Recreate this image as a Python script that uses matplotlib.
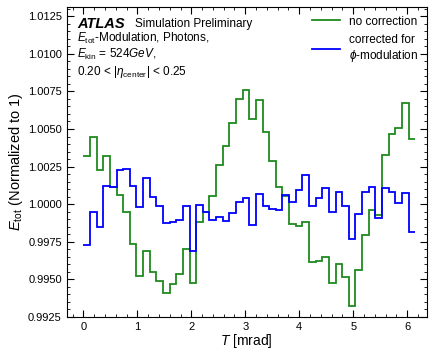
import numpy as np
import matplotlib
matplotlib.use('Agg')
import matplotlib.pyplot as plt
from matplotlib.ticker import AutoMinorLocator, MultipleLocator, FormatStrFormatter

plt.rcParams['font.family'] = ['Liberation Sans', 'DejaVu Sans']
plt.rcParams['mathtext.fontset'] = 'custom'
plt.rcParams['mathtext.rm'] = 'Liberation Sans'
plt.rcParams['mathtext.it'] = 'Liberation Sans:italic'
plt.rcParams['mathtext.bf'] = 'Liberation Sans:bold'

# 50 bins in T [mrad]
bin_edges = np.linspace(0, 6.15, 51)

no_correction = [
    1.00318, 1.00444, 1.00225, 1.00318, 1.00114, 1.00063, 0.99948, 0.99737, 0.99518, 0.99689,
    0.99547, 0.99485, 0.99410, 0.99467, 0.99536, 0.99702, 0.99474, 0.99884, 0.99946, 1.00057,
    1.00263, 1.00384, 1.00540, 1.00703, 1.00761, 1.00568, 1.00695, 1.00480, 1.00285, 1.00114,
    1.00057, 0.99870, 0.99857, 0.99879, 0.99613, 0.99618, 0.99649, 0.99476, 0.99600, 0.99513,
    0.99320, 0.99558, 0.99795, 0.99959, 0.99928, 1.00327, 1.00469, 1.00507, 1.00673, 1.00433,
]

corrected = [
    0.99731, 0.99950, 0.99848, 1.00123, 1.00114, 1.00229, 1.00236, 1.00123, 0.99979, 1.00174,
    1.00045, 0.99985, 0.99875, 0.99884, 0.99895, 0.99985, 0.99689, 0.99997, 0.99948, 0.99892,
    0.99912, 0.99890, 0.99941, 1.00015, 1.00041, 0.99859, 1.00070, 0.99990, 0.99968, 0.99959,
    1.00058, 1.00012, 1.00092, 1.00196, 0.99985, 1.00043, 1.00105, 0.99950, 1.00079, 0.99990,
    0.99769, 0.99935, 1.00081, 1.00114, 0.99910, 1.00105, 1.00083, 1.00005, 1.00074, 0.99815,
]

fig = plt.figure(figsize=(4.3, 3.5), dpi=100)
ax = fig.add_axes([0.155, 0.095, 0.837, 0.884])

ax.stairs(no_correction, bin_edges, baseline=None, color='#1f8a1f', linewidth=1.3,
          label='no correction')
ax.stairs(corrected, bin_edges, baseline=None, color='#0000ff', linewidth=1.3,
          label='corrected for\n$\\phi$-modulation')

ax.set_xlim(-0.31, 6.36)
ax.set_ylim(0.9925, 1.0131)

ax.xaxis.set_major_locator(MultipleLocator(1))
ax.xaxis.set_minor_locator(AutoMinorLocator(5))
ax.yaxis.set_major_locator(MultipleLocator(0.0025))
ax.yaxis.set_minor_locator(AutoMinorLocator(5))
ax.yaxis.set_major_formatter(FormatStrFormatter('%.4f'))
ax.tick_params(which='both', direction='in', top=True, right=True, labelsize=8)
ax.tick_params(which='major', length=5)
ax.tick_params(which='minor', length=2.5)

ax.set_xlabel('$T$ [mrad]', fontsize=10, labelpad=0)
ax.set_ylabel('$E_{\\rm tot}$ (Normalized to 1)', fontsize=10.5, labelpad=2)

ax.text(0.029, 0.968, 'ATLAS', transform=ax.transAxes, fontsize=10.5,
        fontweight='bold', fontstyle='italic', va='top', ha='left')
ax.text(0.19, 0.965, 'Simulation Preliminary', transform=ax.transAxes, fontsize=8.5,
        va='top', ha='left')
ax.text(0.029, 0.925,
        '$E_{\\rm tot}$-Modulation, Photons,\n$E_{\\rm kin}$ = 524$GeV$,\n'
        '0.20 < |$\\eta_{\\rm center}$| < 0.25',
        transform=ax.transAxes, fontsize=8.5, va='top', ha='left', linespacing=1.15)

ax.legend(loc='upper right', frameon=False, fontsize=8.5, handlelength=2.3,
          borderaxespad=0.3, labelspacing=0.5)

fig.savefig('out.png', dpi=100)
